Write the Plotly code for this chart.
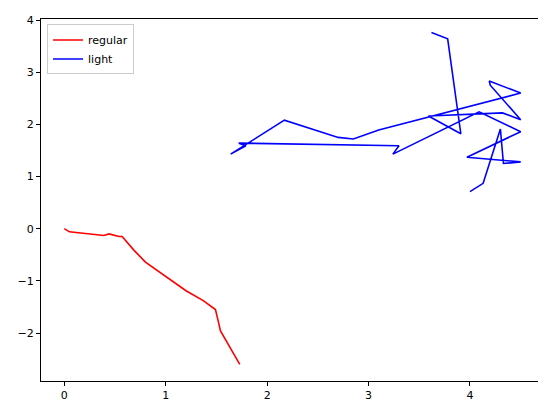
import plotly.graph_objects as go

regular_x = [0, 0.05, 0.30, 0.39, 0.44, 0.54, 0.57, 0.69, 0.80, 1.20, 1.37, 1.49, 1.51, 1.54, 1.73]
regular_y = [0, -0.06, -0.11, -0.13, -0.10, -0.15, -0.15, -0.42, -0.64, -1.19, -1.38, -1.55, -1.71, -1.96, -2.60]
light_x = [4.00, 4.13, 4.30, 4.33, 4.50, 3.97, 4.50, 4.09, 3.24, 3.30, 1.72, 1.79, 1.64, 2.17, 2.70, 2.85,
           3.10, 4.50, 4.19, 4.20, 4.50, 4.32, 3.59, 3.91, 3.78, 3.62]
light_y = [0.71, 0.87, 1.91, 1.25, 1.28, 1.37, 1.86, 2.24, 1.43, 1.59, 1.64, 1.59, 1.43, 2.08, 1.75, 1.72,
           1.89, 2.60, 2.83, 2.75, 2.09, 2.22, 2.16, 1.82, 3.64, 3.76]

fig = go.Figure()
fig.add_trace(go.Scatter(x=regular_x, y=regular_y, mode="lines", name="regular", line=dict(color="red", width=1.6)))
fig.add_trace(go.Scatter(x=light_x, y=light_y, mode="lines", name="light", line=dict(color="blue", width=1.6)))

ax = dict(showgrid=False, zeroline=False, showline=True, linecolor="black", linewidth=1, mirror=True,
          ticks="outside", ticklen=4, tickcolor="black", tickfont=dict(size=11, color="black"))
fig.update_layout(
    width=546, height=414, margin=dict(l=33, r=10, t=6, b=41),
    paper_bgcolor="white", plot_bgcolor="white",
    font=dict(family="DejaVu Sans", color="black"),
    xaxis=dict(range=[-0.23, 4.73], dtick=1, **ax),
    yaxis=dict(range=[-2.92, 4.02], dtick=1, **ax),
    legend=dict(x=0.012, y=0.985, xanchor="left", yanchor="top", bordercolor="#cccccc", borderwidth=1,
                bgcolor="white", font=dict(size=11)),
)
fig.write_html("out.html")
